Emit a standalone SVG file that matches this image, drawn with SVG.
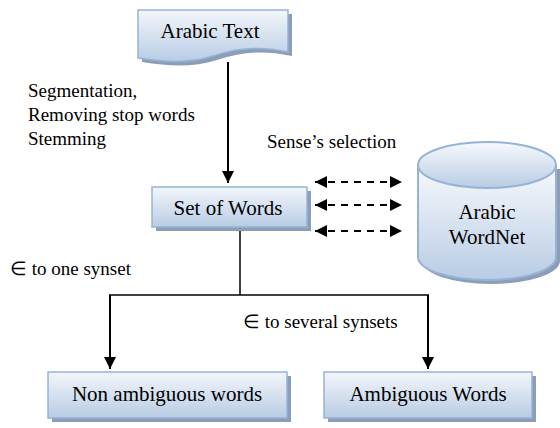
<svg xmlns="http://www.w3.org/2000/svg" width="560" height="428" viewBox="0 0 560 428">
  <defs>
    <linearGradient id="boxFill" x1="0" y1="0" x2="0" y2="1">
      <stop offset="0" stop-color="#f3f6fb"/>
      <stop offset="1" stop-color="#b8cce4"/>
    </linearGradient>
    <linearGradient id="cylFill" x1="0" y1="0" x2="0" y2="1">
      <stop offset="0" stop-color="#f7f9fc"/>
      <stop offset="1" stop-color="#b8cce4"/>
    </linearGradient>
    <marker id="arrow" viewBox="0 0 10 10" refX="10" refY="5" markerWidth="12" markerHeight="12" markerUnits="userSpaceOnUse" orient="auto">
      <path d="M0,0 L10,5 L0,10 Z" fill="#000"/>
    </marker>
    <marker id="arrowStart" viewBox="0 0 10 10" refX="0" refY="5" markerWidth="12" markerHeight="12" markerUnits="userSpaceOnUse" orient="auto">
      <path d="M10,0 L0,5 L10,10 Z" fill="#000"/>
    </marker>
  </defs>
  <style>
    .shadow { fill: #8d9db5; }
    .box { fill: url(#boxFill); stroke: #95b3d7; stroke-width: 1.5; }
    .cyl { fill: url(#cylFill); stroke: #95b3d7; stroke-width: 2; }
    .node-label { font-family: "Liberation Serif", "Times New Roman", serif; font-size: 21px; fill: #000; text-anchor: middle; }
    .label { font-family: "Liberation Serif", "Times New Roman", serif; font-size: 19px; fill: #000; }
    .flow { stroke: #000; stroke-width: 2; fill: none; }
    .tree { stroke: #000; stroke-width: 1.5; fill: none; }
    .link { stroke: #000; stroke-width: 2; fill: none; stroke-dasharray: 7 6; }
  </style>

  <g id="arabic-text">
    <path class="shadow" d="M142,14 H292 V56 C262,50 242,52 217,60 C192,68 169,66 142,62 Z"/>
    <path class="box" d="M138,10 H288 V52 C258,46 238,48 213,56 C188,64 165,62 138,58 Z"/>
    <text class="node-label" x="210" y="38">Arabic Text</text>
  </g>

  <g id="set-of-words">
    <rect class="shadow" x="156" y="191" width="155" height="40"/>
    <rect class="box" x="152" y="187" width="155" height="40"/>
    <text class="node-label" x="228" y="215">Set of Words</text>
  </g>

  <g id="arabic-wordnet">
    <path class="shadow" d="M422,169 V261 A69,23 0 0 0 560,261 V169 Z"/>
    <path class="cyl" d="M418,165 V257 A69,23 0 0 0 556,257 V165"/>
    <ellipse class="cyl" cx="487" cy="165" rx="69" ry="23"/>
    <text class="node-label" x="487" y="219">Arabic</text>
    <text class="node-label" x="487" y="244">WordNet</text>
  </g>

  <g id="non-ambiguous-words">
    <rect class="shadow" x="52" y="376" width="239" height="46"/>
    <rect class="box" x="48" y="372" width="239" height="46"/>
    <text class="node-label" x="167" y="401">Non ambiguous words</text>
  </g>

  <g id="ambiguous-words">
    <rect class="shadow" x="328" y="376" width="208" height="46"/>
    <rect class="box" x="324" y="372" width="208" height="46"/>
    <text class="node-label" x="428" y="401">Ambiguous Words</text>
  </g>

  <g id="connectors">
    <line class="flow" x1="228" y1="62" x2="228" y2="183" marker-end="url(#arrow)"/>
    <line class="link" x1="315" y1="182" x2="402" y2="182" marker-start="url(#arrowStart)" marker-end="url(#arrow)"/>
    <line class="link" x1="315" y1="205" x2="402" y2="205" marker-start="url(#arrowStart)" marker-end="url(#arrow)"/>
    <line class="link" x1="315" y1="231" x2="402" y2="231" marker-start="url(#arrowStart)" marker-end="url(#arrow)"/>
    <line class="tree" x1="240" y1="231" x2="240" y2="295"/>
    <line class="tree" x1="109" y1="295" x2="429" y2="295"/>
    <line class="flow" x1="110" y1="295" x2="110" y2="369" marker-end="url(#arrow)"/>
    <line class="flow" x1="428" y1="295" x2="428" y2="369" marker-end="url(#arrow)"/>
  </g>

  <g id="labels">
    <text class="label" x="28" y="97">Segmentation,</text>
    <text class="label" x="28" y="121">Removing stop words</text>
    <text class="label" x="28" y="145">Stemming</text>
    <text class="label" x="267" y="148">Sense’s selection</text>
    <text class="label" x="10" y="275">∈ to one synset</text>
    <text class="label" x="243" y="328">∈ to several synsets</text>
  </g>
</svg>
